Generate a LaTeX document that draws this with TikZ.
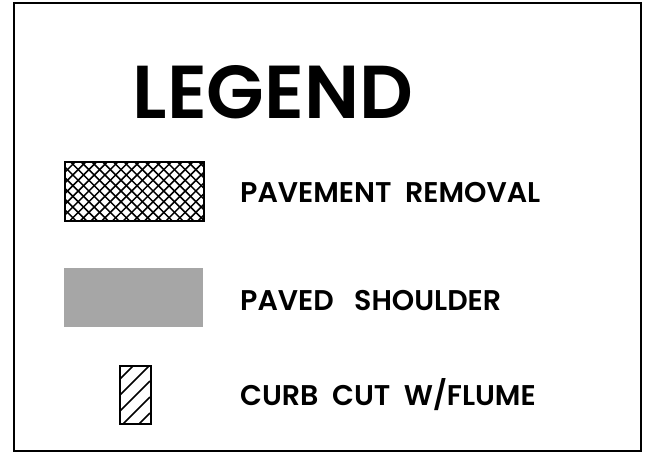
\documentclass[tikz,border=0pt]{standalone}
\usepackage{fontspec}
\newfontfamily\pop{Poppins}[BoldFont={Poppins SemiBold}]
\begin{document}
\begin{tikzpicture}[x=1pt,y=-1pt,
  frame/.style={draw=black,line width=2pt},
  swatch/.style={draw=black,line width=1.8pt},
  hatchline/.style={line width=1.5pt},
  lbl/.style={anchor=west,inner sep=0pt,font=\pop\bfseries\fontsize{28.5}{30}\selectfont},
]
\useasboundingbox (0,0) rectangle (655,461);
\fill[white] (0,0) rectangle (655,461);
\draw[frame] (14,3) rectangle (641,451);
\node[inner sep=0pt,anchor=center,font=\pop\bfseries\fontsize{75}{78}\selectfont] (title) at (273,92) {LEGEND};
% crosshatch
\begin{scope}
\clip (64,161) rectangle (203,220);
\foreach \i in {-80,-69.3,...,220} {
  \draw[hatchline] (64+\i,161) -- (64+\i+60,221);
  \draw[hatchline] (64+\i,221) -- (64+\i+60,161);
}
\end{scope}
\node[swatch,inner sep=0pt,minimum width=139pt,minimum height=59pt,anchor=north west] (pr) at (64,161) {};
% paved shoulder
\fill[black!35] (64,268) rectangle (203,327);
\node[inner sep=0pt,minimum width=139pt,minimum height=59pt,anchor=north west] (ps) at (64,268) {};
% flume
\begin{scope}
\clip (119,365) rectangle (150,423);
\foreach \i in {0,16,...,96} {
  \draw[hatchline] (119,380+\i) -- (150,349+\i);
}
\end{scope}
\node[swatch,inner sep=0pt,minimum width=31pt,minimum height=58pt,anchor=north west] (cc) at (119,365) {};
\node[lbl] (t1) at (240,193) {PAVEMENT\ \ REMOVAL};
\node[lbl] (t2) at (240,301) {PAVED\ \ \ SHOULDER};
\node[lbl] (t3) at (240,395) {CURB\ \ CUT\ \ W/FLUME};
\end{tikzpicture}
\end{document}
